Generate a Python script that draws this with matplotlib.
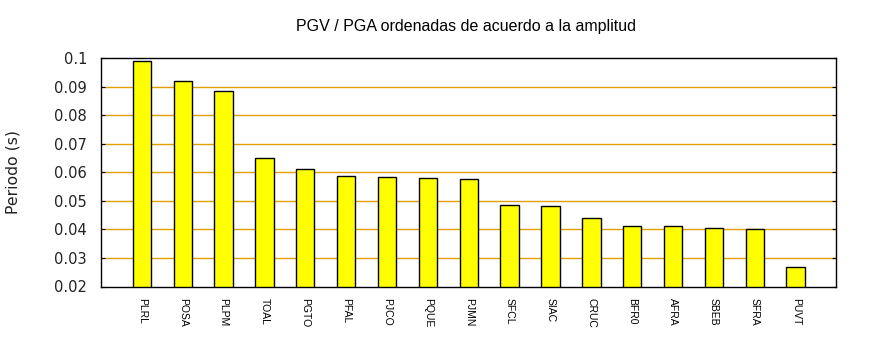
import matplotlib.pyplot as plt
import numpy as np

estaciones = ['PLRL', 'POSA', 'PLPM', 'TOAL', 'PGTO', 'PFAL', 'PJCO', 'PQUE', 'PJMN',
              'SFCL', 'SIAC', 'CRUC', 'BFR0', 'AFRA', 'SBEB', 'SFRA', 'PUVT']
periodo = [0.0988, 0.0918, 0.0883, 0.0649, 0.0610, 0.0586, 0.0582, 0.0579, 0.0575,
           0.0484, 0.0481, 0.0439, 0.0411, 0.0411, 0.0404, 0.0401, 0.0267]
yticks = [0.02, 0.03, 0.04, 0.05, 0.06, 0.07, 0.08, 0.09, 0.1]

fig = plt.figure(figsize=(8.7, 3.5), dpi=100)
ax = fig.add_axes([101 / 870, 1 - 286.5 / 350, (836.5 - 101) / 870, (286.5 - 58) / 350])

x = np.arange(len(estaciones))
for yv in yticks[1:-1]:
    ax.axhline(yv, color='#e0a000', lw=1.0, zorder=1)
ax.bar(x, periodo, width=0.45, color='#ffff00', edgecolor='black', linewidth=1.0, zorder=2)

ax.set_xlim(-1, len(estaciones))
ax.set_ylim(0.02, 0.1)
ax.set_yticks(yticks)
ax.set_yticklabels(['0.02', '0.03', '0.04', '0.05', '0.06', '0.07', '0.08', '0.09', '0.1'],
                   fontsize=10.5, color='#222222')
ax.tick_params(axis='y', direction='in', length=3, right=True, left=True, pad=10)
ax.set_xticks(x)
ax.set_xticklabels(estaciones, rotation=-90, fontsize=7.5, family='Liberation Sans',
                   va='top', ha='center')
ax.tick_params(axis='x', length=0, pad=8)
for s in ax.spines.values():
    s.set_linewidth(1.0)

ax.set_ylabel('Periodo (s)', fontsize=11.3, color='#222222', labelpad=24)
fig.text(466 / 870, 1 - 27 / 350, 'PGV / PGA ordenadas de acuerdo a la amplitud',
         ha='center', va='center', fontsize=11.5, family='Liberation Sans')

fig.savefig('out.png', dpi=100)
